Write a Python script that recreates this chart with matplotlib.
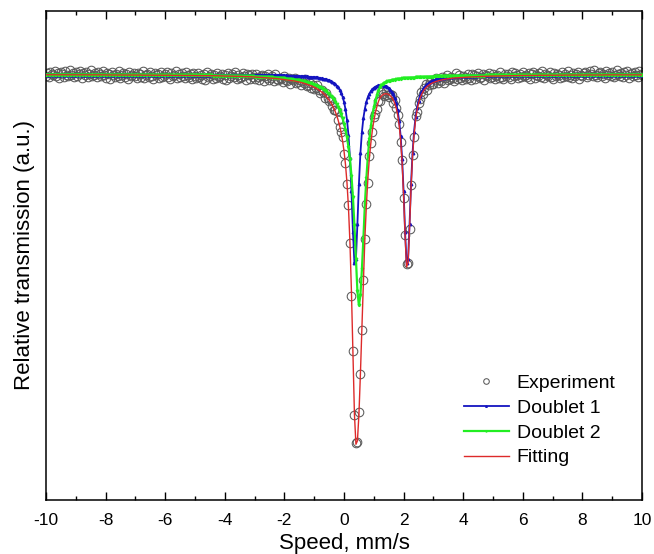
import numpy as np
import matplotlib
matplotlib.use("Agg")
import matplotlib.pyplot as plt
from matplotlib.ticker import MultipleLocator, NullLocator

plt.rcParams['font.family'] = ['Liberation Sans', 'DejaVu Sans']

# velocity channels (mm/s), 0.05 mm/s step
velocity = np.linspace(-10.0, 10.0, 401)

# relative transmission (%), experimental points
experiment = [
    99.98, 100.01, 99.97, 100.02, 100.00, 99.99, 100.03, 99.98, 100.01, 99.96, 100.02, 100.00, 99.97, 100.03, 99.99, 99.98, 100.04, 99.99, 100.01, 99.97,
    100.02, 99.98, 100.00, 100.03, 99.96, 100.01, 99.99, 100.02, 99.97, 100.00, 100.04, 99.98, 99.99, 100.01, 99.97, 100.02, 100.00, 99.98, 100.03, 99.99,
    99.96, 100.01, 100.00, 99.95, 100.02, 99.99, 99.97, 100.00, 99.98, 100.03, 99.96, 99.99, 100.01, 99.97, 100.00, 99.95, 100.02, 99.98, 99.99, 100.01,
    99.98, 99.96, 100.01, 100.00, 99.97, 100.03, 99.96, 99.99, 100.00, 99.97, 100.02, 99.98, 99.95, 100.01, 99.99, 100.00, 99.96, 100.02, 99.97, 99.98,
    100.00, 100.02, 99.97, 99.95, 100.01, 99.98, 99.99, 100.03, 99.96, 100.00, 99.97, 100.01, 99.98, 99.96, 100.02, 99.99, 99.97, 100.00, 99.95, 100.01,
    99.98, 99.96, 100.01, 99.97, 99.99, 99.95, 100.00, 99.94, 100.02, 99.97, 99.98, 100.00, 99.95, 99.99, 99.96, 100.01, 99.97, 99.98, 100.00, 99.95,
    99.99, 99.94, 100.01, 99.96, 99.98, 100.00, 99.97, 100.02, 99.95, 99.99, 99.96, 99.97, 100.01, 99.98, 99.94, 100.00, 99.99, 99.95, 100.00, 99.97,
    99.95, 100.00, 99.97, 99.94, 99.98, 99.99, 99.93, 99.98, 99.96, 100.00, 99.94, 99.96, 99.98, 99.93, 100.00, 99.95, 99.94, 99.96, 99.95, 99.92,
    99.98, 99.94, 99.93, 99.96, 99.90, 99.95, 99.94, 99.96, 99.91, 99.92, 99.94, 99.89, 99.93, 99.91, 99.95, 99.88, 99.89, 99.91, 99.86, 99.89,
    99.85, 99.86, 99.89, 99.84, 99.81, 99.84, 99.82, 99.76, 99.81, 99.76, 99.73, 99.74, 99.68, 99.64, 99.64, 99.63, 99.54, 99.47, 99.42, 99.37,
    99.20, 99.11, 98.90, 98.69, 98.31, 97.78, 97.23, 96.59, 96.31, 96.32, 96.62, 97.00, 97.44, 97.94, 98.35, 98.70, 98.91, 99.18, 99.31, 99.42,
    99.57, 99.60, 99.65, 99.73, 99.73, 99.82, 99.80, 99.78, 99.83, 99.79, 99.77, 99.80, 99.79, 99.71, 99.74, 99.66, 99.59, 99.50, 99.32, 99.14,
    98.76, 98.39, 98.10, 98.11, 98.45, 98.89, 99.19, 99.37, 99.58, 99.62, 99.71, 99.75, 99.82, 99.80, 99.86, 99.90, 99.84, 99.89, 99.92, 99.90,
    99.90, 99.94, 99.96, 99.91, 99.94, 99.93, 99.97, 99.91, 99.96, 99.99, 99.94, 99.95, 99.97, 99.96, 99.93, 100.01, 99.95, 99.99, 99.96, 99.94,
    99.98, 99.97, 99.95, 100.00, 99.96, 99.94, 100.00, 99.99, 99.95, 99.98, 100.01, 99.96, 99.97, 100.00, 99.94, 99.99, 99.98, 100.01, 99.96, 99.97,
    100.00, 99.95, 99.98, 99.99, 99.96, 100.02, 99.97, 99.95, 100.00, 99.98, 100.00, 99.97, 99.95, 100.02, 99.98, 100.01, 99.99, 99.96, 100.00, 99.97,
    100.02, 99.98, 99.99, 99.97, 100.01, 99.95, 100.00, 100.02, 99.96, 99.99, 99.98, 100.01, 99.97, 100.03, 99.96, 100.00, 99.99, 99.98, 100.02, 99.97,
    99.95, 100.01, 99.98, 100.00, 99.99, 99.96, 100.02, 99.97, 100.00, 99.98, 100.03, 99.97, 99.99, 99.96, 100.01, 99.98, 100.00, 100.02, 99.95, 99.99,
    99.98, 100.01, 100.02, 99.97, 99.99, 100.03, 100.00, 99.98, 100.04, 99.99, 99.97, 100.01, 100.02, 99.98, 100.00, 99.96, 100.03, 99.99, 100.01, 99.98,
    100.02, 99.97, 99.99, 100.04, 100.00, 99.98, 100.01, 99.97, 100.02, 99.99, 100.03, 99.96, 100.00, 100.01, 99.98, 100.02, 99.99, 99.97, 100.03, 100.00,
    99.99,
]

doublet1 = [
    99.999, 99.999, 99.999, 99.999, 99.999, 99.999, 99.999, 99.999, 99.999, 99.999, 99.999, 99.999, 99.999, 99.999, 99.999, 99.999, 99.999, 99.999, 99.999, 99.999,
    99.999, 99.999, 99.999, 99.999, 99.999, 99.999, 99.999, 99.999, 99.999, 99.999, 99.999, 99.999, 99.999, 99.999, 99.999, 99.999, 99.999, 99.999, 99.999, 99.999,
    99.998, 99.998, 99.998, 99.998, 99.998, 99.998, 99.998, 99.998, 99.998, 99.998, 99.998, 99.998, 99.998, 99.998, 99.998, 99.998, 99.998, 99.998, 99.998, 99.998,
    99.998, 99.998, 99.998, 99.998, 99.998, 99.998, 99.998, 99.998, 99.998, 99.998, 99.998, 99.998, 99.998, 99.998, 99.998, 99.998, 99.998, 99.998, 99.998, 99.998,
    99.997, 99.997, 99.997, 99.997, 99.997, 99.997, 99.997, 99.997, 99.997, 99.997, 99.997, 99.997, 99.997, 99.997, 99.997, 99.997, 99.997, 99.997, 99.997, 99.997,
    99.997, 99.997, 99.997, 99.997, 99.997, 99.997, 99.997, 99.997, 99.997, 99.997, 99.997, 99.997, 99.997, 99.997, 99.997, 99.997, 99.997, 99.997, 99.997, 99.997,
    99.996, 99.996, 99.996, 99.996, 99.996, 99.996, 99.996, 99.996, 99.996, 99.996, 99.995, 99.995, 99.995, 99.995, 99.995, 99.995, 99.995, 99.995, 99.995, 99.995,
    99.995, 99.994, 99.994, 99.994, 99.994, 99.994, 99.994, 99.993, 99.993, 99.993, 99.993, 99.993, 99.992, 99.992, 99.992, 99.991, 99.991, 99.991, 99.991, 99.990,
    99.990, 99.990, 99.989, 99.989, 99.988, 99.988, 99.987, 99.987, 99.986, 99.985, 99.985, 99.984, 99.983, 99.982, 99.981, 99.980, 99.979, 99.977, 99.976, 99.975,
    99.974, 99.972, 99.970, 99.967, 99.965, 99.962, 99.959, 99.955, 99.951, 99.946, 99.940, 99.933, 99.925, 99.915, 99.904, 99.889, 99.871, 99.848, 99.819, 99.779,
    99.726, 99.653, 99.547, 99.393, 99.164, 98.834, 98.426, 98.112, 98.152, 98.506, 98.904, 99.211, 99.421, 99.563, 99.658, 99.726, 99.773, 99.808, 99.833, 99.853,
    99.867, 99.877, 99.885, 99.890, 99.893, 99.893, 99.892, 99.889, 99.884, 99.876, 99.864, 99.849, 99.829, 99.802, 99.765, 99.714, 99.642, 99.538, 99.386, 99.158,
    98.830, 98.424, 98.111, 98.153, 98.509, 98.908, 99.217, 99.428, 99.572, 99.669, 99.739, 99.788, 99.825, 99.853, 99.875, 99.892, 99.906, 99.918, 99.927, 99.935,
    99.941, 99.947, 99.951, 99.955, 99.959, 99.962, 99.965, 99.968, 99.970, 99.972, 99.974, 99.976, 99.977, 99.978, 99.980, 99.981, 99.982, 99.983, 99.984, 99.984,
    99.985, 99.986, 99.986, 99.986, 99.987, 99.987, 99.988, 99.988, 99.989, 99.989, 99.990, 99.990, 99.991, 99.991, 99.991, 99.992, 99.992, 99.992, 99.992, 99.993,
    99.993, 99.993, 99.993, 99.993, 99.993, 99.994, 99.994, 99.994, 99.994, 99.994, 99.994, 99.995, 99.995, 99.995, 99.995, 99.995, 99.995, 99.996, 99.996, 99.996,
    99.996, 99.996, 99.996, 99.996, 99.996, 99.996, 99.996, 99.996, 99.996, 99.997, 99.997, 99.997, 99.997, 99.997, 99.997, 99.997, 99.997, 99.997, 99.997, 99.997,
    99.997, 99.997, 99.997, 99.997, 99.997, 99.997, 99.997, 99.997, 99.997, 99.997, 99.997, 99.998, 99.998, 99.998, 99.998, 99.998, 99.998, 99.998, 99.998, 99.998,
    99.998, 99.998, 99.998, 99.998, 99.998, 99.998, 99.998, 99.998, 99.998, 99.998, 99.998, 99.998, 99.998, 99.998, 99.998, 99.998, 99.998, 99.998, 99.998, 99.998,
    99.998, 99.999, 99.999, 99.999, 99.999, 99.999, 99.999, 99.999, 99.999, 99.999, 99.999, 99.999, 99.999, 99.999, 99.999, 99.999, 99.999, 99.999, 99.999, 99.999,
    99.999,
]

doublet2 = [
    99.998, 99.998, 99.998, 99.998, 99.998, 99.998, 99.998, 99.998, 99.998, 99.998, 99.998, 99.998, 99.998, 99.998, 99.998, 99.998, 99.998, 99.998, 99.998, 99.998,
    99.997, 99.997, 99.997, 99.997, 99.997, 99.997, 99.997, 99.997, 99.997, 99.997, 99.997, 99.997, 99.997, 99.997, 99.997, 99.997, 99.997, 99.997, 99.997, 99.997,
    99.996, 99.996, 99.996, 99.996, 99.996, 99.996, 99.996, 99.996, 99.996, 99.996, 99.996, 99.996, 99.996, 99.996, 99.996, 99.996, 99.996, 99.996, 99.996, 99.996,
    99.995, 99.995, 99.995, 99.995, 99.995, 99.995, 99.995, 99.995, 99.995, 99.995, 99.994, 99.994, 99.994, 99.994, 99.994, 99.994, 99.994, 99.994, 99.994, 99.994,
    99.994, 99.994, 99.994, 99.994, 99.994, 99.994, 99.993, 99.993, 99.993, 99.993, 99.993, 99.993, 99.993, 99.993, 99.992, 99.992, 99.992, 99.992, 99.992, 99.992,
    99.991, 99.991, 99.991, 99.991, 99.991, 99.991, 99.990, 99.990, 99.990, 99.990, 99.990, 99.990, 99.989, 99.989, 99.989, 99.989, 99.988, 99.988, 99.988, 99.988,
    99.987, 99.987, 99.987, 99.987, 99.986, 99.986, 99.986, 99.986, 99.985, 99.985, 99.985, 99.985, 99.984, 99.984, 99.983, 99.983, 99.982, 99.981, 99.980, 99.980,
    99.979, 99.979, 99.978, 99.977, 99.977, 99.976, 99.975, 99.974, 99.974, 99.973, 99.972, 99.971, 99.970, 99.969, 99.968, 99.967, 99.966, 99.964, 99.963, 99.962,
    99.960, 99.959, 99.957, 99.955, 99.953, 99.951, 99.949, 99.947, 99.945, 99.943, 99.940, 99.937, 99.934, 99.931, 99.927, 99.923, 99.919, 99.915, 99.910, 99.905,
    99.899, 99.893, 99.886, 99.879, 99.871, 99.863, 99.853, 99.843, 99.831, 99.818, 99.804, 99.789, 99.771, 99.751, 99.729, 99.704, 99.676, 99.643, 99.605, 99.561,
    99.509, 99.447, 99.370, 99.275, 99.151, 98.989, 98.773, 98.490, 98.150, 97.830, 97.690, 97.790, 98.050, 98.355, 98.700, 98.960, 99.180, 99.350, 99.480, 99.585,
    99.670, 99.735, 99.790, 99.835, 99.870, 99.890, 99.905, 99.916, 99.925, 99.930, 99.935, 99.939, 99.943, 99.946, 99.949, 99.952, 99.954, 99.956, 99.958, 99.960,
    99.961, 99.963, 99.964, 99.965, 99.966, 99.967, 99.968, 99.969, 99.970, 99.971, 99.972, 99.973, 99.973, 99.974, 99.975, 99.976, 99.976, 99.977, 99.978, 99.979,
    99.979, 99.980, 99.980, 99.981, 99.981, 99.982, 99.982, 99.983, 99.983, 99.984, 99.984, 99.985, 99.985, 99.985, 99.985, 99.986, 99.986, 99.986, 99.986, 99.987,
    99.987, 99.987, 99.987, 99.987, 99.987, 99.988, 99.988, 99.988, 99.988, 99.988, 99.988, 99.989, 99.989, 99.989, 99.989, 99.990, 99.990, 99.990, 99.990, 99.991,
    99.991, 99.991, 99.991, 99.991, 99.991, 99.992, 99.992, 99.992, 99.992, 99.992, 99.992, 99.993, 99.993, 99.993, 99.993, 99.993, 99.993, 99.994, 99.994, 99.994,
    99.994, 99.994, 99.994, 99.994, 99.994, 99.994, 99.994, 99.995, 99.995, 99.995, 99.995, 99.995, 99.995, 99.995, 99.995, 99.995, 99.995, 99.995, 99.995, 99.995,
    99.995, 99.996, 99.996, 99.996, 99.996, 99.996, 99.996, 99.996, 99.996, 99.996, 99.996, 99.996, 99.996, 99.996, 99.996, 99.996, 99.996, 99.996, 99.996, 99.996,
    99.996, 99.997, 99.997, 99.997, 99.997, 99.997, 99.997, 99.997, 99.997, 99.997, 99.997, 99.997, 99.997, 99.997, 99.997, 99.997, 99.997, 99.997, 99.997, 99.997,
    99.997, 99.997, 99.997, 99.997, 99.997, 99.997, 99.997, 99.997, 99.997, 99.997, 99.997, 99.997, 99.997, 99.997, 99.997, 99.997, 99.997, 99.997, 99.997, 99.997,
    99.997,
]

fitting = [
    99.997, 99.997, 99.997, 99.997, 99.997, 99.997, 99.997, 99.997, 99.997, 99.997, 99.997, 99.997, 99.997, 99.997, 99.997, 99.997, 99.997, 99.997, 99.997, 99.997,
    99.996, 99.996, 99.996, 99.996, 99.996, 99.996, 99.996, 99.996, 99.996, 99.996, 99.996, 99.996, 99.996, 99.996, 99.996, 99.996, 99.996, 99.996, 99.996, 99.996,
    99.995, 99.995, 99.995, 99.995, 99.995, 99.995, 99.995, 99.995, 99.995, 99.995, 99.994, 99.994, 99.994, 99.994, 99.994, 99.994, 99.994, 99.994, 99.994, 99.994,
    99.994, 99.994, 99.994, 99.994, 99.993, 99.993, 99.993, 99.993, 99.993, 99.993, 99.993, 99.993, 99.992, 99.992, 99.992, 99.992, 99.992, 99.992, 99.992, 99.992,
    99.992, 99.992, 99.992, 99.992, 99.991, 99.991, 99.991, 99.991, 99.991, 99.991, 99.991, 99.991, 99.990, 99.990, 99.990, 99.990, 99.990, 99.990, 99.990, 99.990,
    99.989, 99.989, 99.989, 99.989, 99.989, 99.989, 99.988, 99.988, 99.988, 99.988, 99.988, 99.988, 99.987, 99.987, 99.987, 99.987, 99.986, 99.986, 99.985, 99.985,
    99.984, 99.984, 99.984, 99.983, 99.983, 99.983, 99.982, 99.982, 99.982, 99.981, 99.981, 99.981, 99.980, 99.980, 99.979, 99.979, 99.978, 99.978, 99.977, 99.975,
    99.974, 99.973, 99.972, 99.971, 99.970, 99.970, 99.969, 99.968, 99.967, 99.966, 99.965, 99.964, 99.962, 99.961, 99.960, 99.959, 99.957, 99.955, 99.953, 99.952,
    99.950, 99.948, 99.946, 99.944, 99.941, 99.939, 99.936, 99.934, 99.931, 99.928, 99.925, 99.921, 99.917, 99.913, 99.908, 99.903, 99.898, 99.892, 99.886, 99.880,
    99.873, 99.865, 99.856, 99.846, 99.836, 99.825, 99.812, 99.798, 99.782, 99.764, 99.744, 99.722, 99.696, 99.667, 99.633, 99.594, 99.547, 99.491, 99.424, 99.340,
    99.235, 99.100, 98.917, 98.668, 98.315, 97.823, 97.199, 96.602, 96.302, 96.336, 96.594, 97.001, 97.471, 97.918, 98.358, 98.686, 98.953, 99.158, 99.313, 99.438,
    99.537, 99.612, 99.675, 99.725, 99.762, 99.783, 99.797, 99.805, 99.808, 99.805, 99.799, 99.788, 99.772, 99.748, 99.714, 99.665, 99.596, 99.494, 99.344, 99.118,
    98.791, 98.386, 98.075, 98.118, 98.475, 98.875, 99.185, 99.397, 99.542, 99.640, 99.711, 99.761, 99.798, 99.827, 99.850, 99.868, 99.882, 99.894, 99.905, 99.913,
    99.920, 99.926, 99.931, 99.936, 99.940, 99.944, 99.947, 99.950, 99.953, 99.956, 99.958, 99.960, 99.962, 99.963, 99.965, 99.966, 99.968, 99.969, 99.970, 99.971,
    99.972, 99.973, 99.973, 99.974, 99.974, 99.975, 99.976, 99.976, 99.977, 99.978, 99.979, 99.980, 99.980, 99.981, 99.981, 99.982, 99.982, 99.983, 99.983, 99.984,
    99.984, 99.984, 99.985, 99.985, 99.985, 99.986, 99.986, 99.986, 99.987, 99.987, 99.987, 99.988, 99.988, 99.988, 99.988, 99.989, 99.989, 99.989, 99.990, 99.990,
    99.990, 99.990, 99.990, 99.990, 99.990, 99.991, 99.991, 99.991, 99.991, 99.991, 99.991, 99.992, 99.992, 99.992, 99.992, 99.992, 99.992, 99.993, 99.993, 99.993,
    99.993, 99.993, 99.993, 99.993, 99.993, 99.993, 99.993, 99.994, 99.994, 99.994, 99.994, 99.994, 99.994, 99.994, 99.994, 99.995, 99.995, 99.995, 99.995, 99.995,
    99.995, 99.995, 99.995, 99.995, 99.995, 99.995, 99.995, 99.995, 99.995, 99.995, 99.995, 99.995, 99.995, 99.995, 99.995, 99.996, 99.996, 99.996, 99.996, 99.996,
    99.996, 99.996, 99.996, 99.996, 99.996, 99.996, 99.996, 99.996, 99.996, 99.996, 99.996, 99.996, 99.996, 99.996, 99.996, 99.996, 99.996, 99.996, 99.996, 99.996,
    99.996,
]

x_ticks = [-10, -8, -6, -4, -2, 0, 2, 4, 6, 8, 10]
series_labels = ["Experiment", "Doublet 1", "Doublet 2", "Fitting"]

for name, arr in (("experiment", experiment), ("doublet1", doublet1),
                  ("doublet2", doublet2), ("fitting", fitting)):
    if len(arr) != len(velocity):
        raise SystemExit(f"{name} has {len(arr)} values")

fig = plt.figure(figsize=(6.54, 5.54), dpi=100)
ax = fig.add_axes([0.0703, 0.0975, 0.9114, 0.8827])

ax.plot(velocity, experiment, linestyle='none', marker='o', markersize=6.2,
        markerfacecolor='none', markeredgecolor='#5a5a5a', markeredgewidth=0.75,
        label=series_labels[0], zorder=2)
ax.plot(velocity, doublet1, color='#1414C0', linewidth=1.3, marker='^',
        markersize=1.8, label=series_labels[1], zorder=3)
ax.plot(velocity, doublet2, color='#22EE22', linewidth=1.6, marker='v',
        markersize=1.8, label=series_labels[2], zorder=4)
ax.plot(velocity, fitting, color='#DD2A2A', linewidth=1.0,
        label=series_labels[3], zorder=5)

ax.set_xlim(-10, 10)
ax.set_ylim(95.745, 100.635)
ax.set_xticks(x_ticks)
ax.set_xticklabels([str(t) for t in x_ticks])
ax.xaxis.set_minor_locator(MultipleLocator(1))
ax.yaxis.set_major_locator(NullLocator())
ax.yaxis.set_minor_locator(NullLocator())
ax.tick_params(axis='x', which='both', direction='in', top=True, bottom=True,
               labelsize=12.5, width=1.0, pad=9.5)
ax.tick_params(axis='x', which='major', length=5.5)
ax.tick_params(axis='x', which='minor', length=3)
for s in ax.spines.values():
    s.set_linewidth(1.1)

ax.set_xlabel("Speed, mm/s", fontsize=16, labelpad=3.5)
ax.set_ylabel("Relative transmission (a.u.)", fontsize=16, labelpad=8)

leg = ax.legend(loc='lower right', bbox_to_anchor=(0.975, 0.045), frameon=False,
                fontsize=14, handlelength=2.3, handletextpad=0.4,
                labelspacing=0.37, borderaxespad=0.2, markerscale=0.65)

fig.savefig("out.png", dpi=100)
